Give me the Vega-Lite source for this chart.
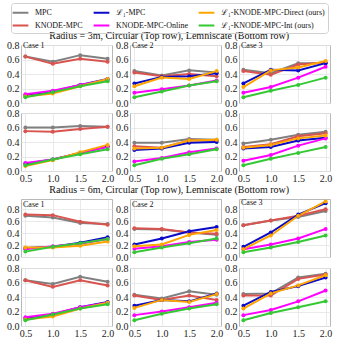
{
"$schema":"https://vega.github.io/schema/vega-lite/v6.json",
"padding":{"left":6,"top":2,"right":2,"bottom":0},
"background":"white",
"data":{"values":[
{"p":"3C1","m":"MPC","x":0.5,"y":0.64},{"p":"3C1","m":"MPC","x":1.0,"y":0.57},{"p":"3C1","m":"MPC","x":1.5,"y":0.66},{"p":"3C1","m":"MPC","x":2.0,"y":0.61},
{"p":"3C1","m":"KN","x":0.5,"y":0.64},{"p":"3C1","m":"KN","x":1.0,"y":0.54},{"p":"3C1","m":"KN","x":1.5,"y":0.61},{"p":"3C1","m":"KN","x":2.0,"y":0.57},
{"p":"3C1","m":"L1","x":0.5,"y":0.10},{"p":"3C1","m":"L1","x":1.0,"y":0.16},{"p":"3C1","m":"L1","x":1.5,"y":0.25},{"p":"3C1","m":"L1","x":2.0,"y":0.33},
{"p":"3C1","m":"KNO","x":0.5,"y":0.12},{"p":"3C1","m":"KNO","x":1.0,"y":0.17},{"p":"3C1","m":"KNO","x":1.5,"y":0.25},{"p":"3C1","m":"KNO","x":2.0,"y":0.32},
{"p":"3C1","m":"D","x":0.5,"y":0.09},{"p":"3C1","m":"D","x":1.0,"y":0.13},{"p":"3C1","m":"D","x":1.5,"y":0.23},{"p":"3C1","m":"D","x":2.0,"y":0.33},
{"p":"3C1","m":"I","x":0.5,"y":0.08},{"p":"3C1","m":"I","x":1.0,"y":0.15},{"p":"3C1","m":"I","x":1.5,"y":0.23},{"p":"3C1","m":"I","x":2.0,"y":0.30},
{"p":"3C2","m":"MPC","x":0.5,"y":0.44},{"p":"3C2","m":"MPC","x":1.0,"y":0.38},{"p":"3C2","m":"MPC","x":1.5,"y":0.45},{"p":"3C2","m":"MPC","x":2.0,"y":0.42},
{"p":"3C2","m":"KN","x":0.5,"y":0.42},{"p":"3C2","m":"KN","x":1.0,"y":0.37},{"p":"3C2","m":"KN","x":1.5,"y":0.40},{"p":"3C2","m":"KN","x":2.0,"y":0.37},
{"p":"3C2","m":"L1","x":0.5,"y":0.27},{"p":"3C2","m":"L1","x":1.0,"y":0.36},{"p":"3C2","m":"L1","x":1.5,"y":0.37},{"p":"3C2","m":"L1","x":2.0,"y":0.41},
{"p":"3C2","m":"KNO","x":0.5,"y":0.14},{"p":"3C2","m":"KNO","x":1.0,"y":0.19},{"p":"3C2","m":"KNO","x":1.5,"y":0.24},{"p":"3C2","m":"KNO","x":2.0,"y":0.31},
{"p":"3C2","m":"D","x":0.5,"y":0.23},{"p":"3C2","m":"D","x":1.0,"y":0.35},{"p":"3C2","m":"D","x":1.5,"y":0.33},{"p":"3C2","m":"D","x":2.0,"y":0.44},
{"p":"3C2","m":"I","x":0.5,"y":0.08},{"p":"3C2","m":"I","x":1.0,"y":0.16},{"p":"3C2","m":"I","x":1.5,"y":0.24},{"p":"3C2","m":"I","x":2.0,"y":0.30},
{"p":"3C3","m":"MPC","x":0.5,"y":0.46},{"p":"3C3","m":"MPC","x":1.0,"y":0.41},{"p":"3C3","m":"MPC","x":1.5,"y":0.55},{"p":"3C3","m":"MPC","x":2.0,"y":0.55},
{"p":"3C3","m":"KN","x":0.5,"y":0.44},{"p":"3C3","m":"KN","x":1.0,"y":0.39},{"p":"3C3","m":"KN","x":1.5,"y":0.53},{"p":"3C3","m":"KN","x":2.0,"y":0.56},
{"p":"3C3","m":"L1","x":0.5,"y":0.27},{"p":"3C3","m":"L1","x":1.0,"y":0.46},{"p":"3C3","m":"L1","x":1.5,"y":0.45},{"p":"3C3","m":"L1","x":2.0,"y":0.55},
{"p":"3C3","m":"KNO","x":0.5,"y":0.14},{"p":"3C3","m":"KNO","x":1.0,"y":0.22},{"p":"3C3","m":"KNO","x":1.5,"y":0.35},{"p":"3C3","m":"KNO","x":2.0,"y":0.50},
{"p":"3C3","m":"D","x":0.5,"y":0.22},{"p":"3C3","m":"D","x":1.0,"y":0.45},{"p":"3C3","m":"D","x":1.5,"y":0.49},{"p":"3C3","m":"D","x":2.0,"y":0.58},
{"p":"3C3","m":"I","x":0.5,"y":0.08},{"p":"3C3","m":"I","x":1.0,"y":0.17},{"p":"3C3","m":"I","x":1.5,"y":0.25},{"p":"3C3","m":"I","x":2.0,"y":0.35},
{"p":"3L1","m":"MPC","x":0.5,"y":0.60},{"p":"3L1","m":"MPC","x":1.0,"y":0.60},{"p":"3L1","m":"MPC","x":1.5,"y":0.62},{"p":"3L1","m":"MPC","x":2.0,"y":0.61},
{"p":"3L1","m":"KN","x":0.5,"y":0.55},{"p":"3L1","m":"KN","x":1.0,"y":0.54},{"p":"3L1","m":"KN","x":1.5,"y":0.58},{"p":"3L1","m":"KN","x":2.0,"y":0.61},
{"p":"3L1","m":"L1","x":0.5,"y":0.10},{"p":"3L1","m":"L1","x":1.0,"y":0.16},{"p":"3L1","m":"L1","x":1.5,"y":0.25},{"p":"3L1","m":"L1","x":2.0,"y":0.34},
{"p":"3L1","m":"KNO","x":0.5,"y":0.11},{"p":"3L1","m":"KNO","x":1.0,"y":0.16},{"p":"3L1","m":"KNO","x":1.5,"y":0.25},{"p":"3L1","m":"KNO","x":2.0,"y":0.33},
{"p":"3L1","m":"D","x":0.5,"y":0.07},{"p":"3L1","m":"D","x":1.0,"y":0.15},{"p":"3L1","m":"D","x":1.5,"y":0.26},{"p":"3L1","m":"D","x":2.0,"y":0.36},
{"p":"3L1","m":"I","x":0.5,"y":0.08},{"p":"3L1","m":"I","x":1.0,"y":0.16},{"p":"3L1","m":"I","x":1.5,"y":0.23},{"p":"3L1","m":"I","x":2.0,"y":0.30},
{"p":"3L2","m":"MPC","x":0.5,"y":0.39},{"p":"3L2","m":"MPC","x":1.0,"y":0.39},{"p":"3L2","m":"MPC","x":1.5,"y":0.44},{"p":"3L2","m":"MPC","x":2.0,"y":0.43},
{"p":"3L2","m":"KN","x":0.5,"y":0.34},{"p":"3L2","m":"KN","x":1.0,"y":0.32},{"p":"3L2","m":"KN","x":1.5,"y":0.42},{"p":"3L2","m":"KN","x":2.0,"y":0.42},
{"p":"3L2","m":"L1","x":0.5,"y":0.29},{"p":"3L2","m":"L1","x":1.0,"y":0.31},{"p":"3L2","m":"L1","x":1.5,"y":0.39},{"p":"3L2","m":"L1","x":2.0,"y":0.40},
{"p":"3L2","m":"KNO","x":0.5,"y":0.13},{"p":"3L2","m":"KNO","x":1.0,"y":0.18},{"p":"3L2","m":"KNO","x":1.5,"y":0.26},{"p":"3L2","m":"KNO","x":2.0,"y":0.31},
{"p":"3L2","m":"D","x":0.5,"y":0.31},{"p":"3L2","m":"D","x":1.0,"y":0.32},{"p":"3L2","m":"D","x":1.5,"y":0.42},{"p":"3L2","m":"D","x":2.0,"y":0.43},
{"p":"3L2","m":"I","x":0.5,"y":0.08},{"p":"3L2","m":"I","x":1.0,"y":0.17},{"p":"3L2","m":"I","x":1.5,"y":0.23},{"p":"3L2","m":"I","x":2.0,"y":0.30},
{"p":"3L3","m":"MPC","x":0.5,"y":0.38},{"p":"3L3","m":"MPC","x":1.0,"y":0.43},{"p":"3L3","m":"MPC","x":1.5,"y":0.50},{"p":"3L3","m":"MPC","x":2.0,"y":0.54},
{"p":"3L3","m":"KN","x":0.5,"y":0.33},{"p":"3L3","m":"KN","x":1.0,"y":0.37},{"p":"3L3","m":"KN","x":1.5,"y":0.48},{"p":"3L3","m":"KN","x":2.0,"y":0.52},
{"p":"3L3","m":"L1","x":0.5,"y":0.31},{"p":"3L3","m":"L1","x":1.0,"y":0.33},{"p":"3L3","m":"L1","x":1.5,"y":0.42},{"p":"3L3","m":"L1","x":2.0,"y":0.46},
{"p":"3L3","m":"KNO","x":0.5,"y":0.14},{"p":"3L3","m":"KNO","x":1.0,"y":0.22},{"p":"3L3","m":"KNO","x":1.5,"y":0.35},{"p":"3L3","m":"KNO","x":2.0,"y":0.45},
{"p":"3L3","m":"D","x":0.5,"y":0.32},{"p":"3L3","m":"D","x":1.0,"y":0.36},{"p":"3L3","m":"D","x":1.5,"y":0.45},{"p":"3L3","m":"D","x":2.0,"y":0.49},
{"p":"3L3","m":"I","x":0.5,"y":0.08},{"p":"3L3","m":"I","x":1.0,"y":0.17},{"p":"3L3","m":"I","x":1.5,"y":0.25},{"p":"3L3","m":"I","x":2.0,"y":0.33},
{"p":"6C1","m":"MPC","x":0.5,"y":0.69},{"p":"6C1","m":"MPC","x":1.0,"y":0.66},{"p":"6C1","m":"MPC","x":1.5,"y":0.57},{"p":"6C1","m":"MPC","x":2.0,"y":0.55},
{"p":"6C1","m":"KN","x":0.5,"y":0.71},{"p":"6C1","m":"KN","x":1.0,"y":0.70},{"p":"6C1","m":"KN","x":1.5,"y":0.59},{"p":"6C1","m":"KN","x":2.0,"y":0.54},
{"p":"6C1","m":"L1","x":0.5,"y":0.15},{"p":"6C1","m":"L1","x":1.0,"y":0.17},{"p":"6C1","m":"L1","x":1.5,"y":0.24},{"p":"6C1","m":"L1","x":2.0,"y":0.33},
{"p":"6C1","m":"KNO","x":0.5,"y":0.13},{"p":"6C1","m":"KNO","x":1.0,"y":0.18},{"p":"6C1","m":"KNO","x":1.5,"y":0.22},{"p":"6C1","m":"KNO","x":2.0,"y":0.30},
{"p":"6C1","m":"D","x":0.5,"y":0.16},{"p":"6C1","m":"D","x":1.0,"y":0.16},{"p":"6C1","m":"D","x":1.5,"y":0.19},{"p":"6C1","m":"D","x":2.0,"y":0.26},
{"p":"6C1","m":"I","x":0.5,"y":0.09},{"p":"6C1","m":"I","x":1.0,"y":0.17},{"p":"6C1","m":"I","x":1.5,"y":0.23},{"p":"6C1","m":"I","x":2.0,"y":0.30},
{"p":"6C2","m":"MPC","x":0.5,"y":0.47},{"p":"6C2","m":"MPC","x":1.0,"y":0.46},{"p":"6C2","m":"MPC","x":1.5,"y":0.41},{"p":"6C2","m":"MPC","x":2.0,"y":0.37},
{"p":"6C2","m":"KN","x":0.5,"y":0.48},{"p":"6C2","m":"KN","x":1.0,"y":0.47},{"p":"6C2","m":"KN","x":1.5,"y":0.41},{"p":"6C2","m":"KN","x":2.0,"y":0.39},
{"p":"6C2","m":"L1","x":0.5,"y":0.21},{"p":"6C2","m":"L1","x":1.0,"y":0.31},{"p":"6C2","m":"L1","x":1.5,"y":0.43},{"p":"6C2","m":"L1","x":2.0,"y":0.50},
{"p":"6C2","m":"KNO","x":0.5,"y":0.14},{"p":"6C2","m":"KNO","x":1.0,"y":0.18},{"p":"6C2","m":"KNO","x":1.5,"y":0.25},{"p":"6C2","m":"KNO","x":2.0,"y":0.29},
{"p":"6C2","m":"D","x":0.5,"y":0.18},{"p":"6C2","m":"D","x":1.0,"y":0.21},{"p":"6C2","m":"D","x":1.5,"y":0.37},{"p":"6C2","m":"D","x":2.0,"y":0.45},
{"p":"6C2","m":"I","x":0.5,"y":0.08},{"p":"6C2","m":"I","x":1.0,"y":0.16},{"p":"6C2","m":"I","x":1.5,"y":0.23},{"p":"6C2","m":"I","x":2.0,"y":0.31},
{"p":"6C3","m":"MPC","x":0.5,"y":0.53},{"p":"6C3","m":"MPC","x":1.0,"y":0.61},{"p":"6C3","m":"MPC","x":1.5,"y":0.67},{"p":"6C3","m":"MPC","x":2.0,"y":0.77},
{"p":"6C3","m":"KN","x":0.5,"y":0.53},{"p":"6C3","m":"KN","x":1.0,"y":0.61},{"p":"6C3","m":"KN","x":1.5,"y":0.69},{"p":"6C3","m":"KN","x":2.0,"y":0.80},
{"p":"6C3","m":"L1","x":0.5,"y":0.17},{"p":"6C3","m":"L1","x":1.0,"y":0.41},{"p":"6C3","m":"L1","x":1.5,"y":0.71},{"p":"6C3","m":"L1","x":2.0,"y":0.90},
{"p":"6C3","m":"KNO","x":0.5,"y":0.13},{"p":"6C3","m":"KNO","x":1.0,"y":0.21},{"p":"6C3","m":"KNO","x":1.5,"y":0.31},{"p":"6C3","m":"KNO","x":2.0,"y":0.47},
{"p":"6C3","m":"D","x":0.5,"y":0.13},{"p":"6C3","m":"D","x":1.0,"y":0.36},{"p":"6C3","m":"D","x":1.5,"y":0.69},{"p":"6C3","m":"D","x":2.0,"y":0.93},
{"p":"6C3","m":"I","x":0.5,"y":0.08},{"p":"6C3","m":"I","x":1.0,"y":0.16},{"p":"6C3","m":"I","x":1.5,"y":0.25},{"p":"6C3","m":"I","x":2.0,"y":0.36},
{"p":"6L1","m":"MPC","x":0.5,"y":0.63},{"p":"6L1","m":"MPC","x":1.0,"y":0.58},{"p":"6L1","m":"MPC","x":1.5,"y":0.68},{"p":"6L1","m":"MPC","x":2.0,"y":0.61},
{"p":"6L1","m":"KN","x":0.5,"y":0.63},{"p":"6L1","m":"KN","x":1.0,"y":0.54},{"p":"6L1","m":"KN","x":1.5,"y":0.63},{"p":"6L1","m":"KN","x":2.0,"y":0.56},
{"p":"6L1","m":"L1","x":0.5,"y":0.10},{"p":"6L1","m":"L1","x":1.0,"y":0.16},{"p":"6L1","m":"L1","x":1.5,"y":0.26},{"p":"6L1","m":"L1","x":2.0,"y":0.33},
{"p":"6L1","m":"KNO","x":0.5,"y":0.12},{"p":"6L1","m":"KNO","x":1.0,"y":0.17},{"p":"6L1","m":"KNO","x":1.5,"y":0.26},{"p":"6L1","m":"KNO","x":2.0,"y":0.32},
{"p":"6L1","m":"D","x":0.5,"y":0.09},{"p":"6L1","m":"D","x":1.0,"y":0.13},{"p":"6L1","m":"D","x":1.5,"y":0.24},{"p":"6L1","m":"D","x":2.0,"y":0.32},
{"p":"6L1","m":"I","x":0.5,"y":0.08},{"p":"6L1","m":"I","x":1.0,"y":0.16},{"p":"6L1","m":"I","x":1.5,"y":0.24},{"p":"6L1","m":"I","x":2.0,"y":0.30},
{"p":"6L2","m":"MPC","x":0.5,"y":0.43},{"p":"6L2","m":"MPC","x":1.0,"y":0.38},{"p":"6L2","m":"MPC","x":1.5,"y":0.48},{"p":"6L2","m":"MPC","x":2.0,"y":0.43},
{"p":"6L2","m":"KN","x":0.5,"y":0.42},{"p":"6L2","m":"KN","x":1.0,"y":0.36},{"p":"6L2","m":"KN","x":1.5,"y":0.42},{"p":"6L2","m":"KN","x":2.0,"y":0.36},
{"p":"6L2","m":"L1","x":0.5,"y":0.28},{"p":"6L2","m":"L1","x":1.0,"y":0.36},{"p":"6L2","m":"L1","x":1.5,"y":0.34},{"p":"6L2","m":"L1","x":2.0,"y":0.45},
{"p":"6L2","m":"KNO","x":0.5,"y":0.15},{"p":"6L2","m":"KNO","x":1.0,"y":0.20},{"p":"6L2","m":"KNO","x":1.5,"y":0.26},{"p":"6L2","m":"KNO","x":2.0,"y":0.32},
{"p":"6L2","m":"D","x":0.5,"y":0.25},{"p":"6L2","m":"D","x":1.0,"y":0.36},{"p":"6L2","m":"D","x":1.5,"y":0.33},{"p":"6L2","m":"D","x":2.0,"y":0.44},
{"p":"6L2","m":"I","x":0.5,"y":0.08},{"p":"6L2","m":"I","x":1.0,"y":0.17},{"p":"6L2","m":"I","x":1.5,"y":0.24},{"p":"6L2","m":"I","x":2.0,"y":0.30},
{"p":"6L3","m":"MPC","x":0.5,"y":0.44},{"p":"6L3","m":"MPC","x":1.0,"y":0.45},{"p":"6L3","m":"MPC","x":1.5,"y":0.67},{"p":"6L3","m":"MPC","x":2.0,"y":0.72},
{"p":"6L3","m":"KN","x":0.5,"y":0.42},{"p":"6L3","m":"KN","x":1.0,"y":0.42},{"p":"6L3","m":"KN","x":1.5,"y":0.65},{"p":"6L3","m":"KN","x":2.0,"y":0.71},
{"p":"6L3","m":"L1","x":0.5,"y":0.28},{"p":"6L3","m":"L1","x":1.0,"y":0.47},{"p":"6L3","m":"L1","x":1.5,"y":0.55},{"p":"6L3","m":"L1","x":2.0,"y":0.67},
{"p":"6L3","m":"KNO","x":0.5,"y":0.15},{"p":"6L3","m":"KNO","x":1.0,"y":0.22},{"p":"6L3","m":"KNO","x":1.5,"y":0.34},{"p":"6L3","m":"KNO","x":2.0,"y":0.49},
{"p":"6L3","m":"D","x":0.5,"y":0.24},{"p":"6L3","m":"D","x":1.0,"y":0.45},{"p":"6L3","m":"D","x":1.5,"y":0.56},{"p":"6L3","m":"D","x":2.0,"y":0.70},
{"p":"6L3","m":"I","x":0.5,"y":0.08},{"p":"6L3","m":"I","x":1.0,"y":0.18},{"p":"6L3","m":"I","x":1.5,"y":0.26},{"p":"6L3","m":"I","x":2.0,"y":0.34}
]},
"config":{
"font":"Liberation Serif",
"view":{"stroke":"#b8b8b8","strokeWidth":1},
"axis":{"labelFont":"Liberation Serif","labelFontSize":10,"labelColor":"#222","ticks":false,"domain":false,"gridColor":"#e4e4e4","gridWidth":0.8,"labelPadding":2,"title":null},
"title":{"font":"Liberation Serif","fontWeight":"normal","color":"#111"},
"legend":{"layout":{"top":{"anchor":"middle"}}}
},
"resolve":{"scale":{"x":"independent","y":"independent","color":"shared"}},
"spacing":0,
"vconcat":[
{"title":{"text":"Radius = 3m, Circular (Top row), Lemniscate (Bottom row)","fontSize":10,"anchor":"middle","offset":-1},
 "spacing":-2,
 "resolve":{"scale":{"x":"independent","y":"independent","color":"shared"}},
 "vconcat":[
 {"spacing":18,"bounds":"flush","resolve":{"scale":{"x":"independent","y":"independent","color":"shared"}},"hconcat":[
  {"width":91,"height":58,"title":{"text":"Case 1","anchor":"start","frame":"group","offset":-10,"fontSize":8,"dx":2},"transform":[{"filter":"datum.p=='3C1'"}],
   "encoding":{"x":{"field":"x","type":"quantitative","scale":{"domain":[0.42,2.08],"nice":false},"axis":{"values":[0.5,1,1.5,2],"format":".1f","labels":false}},
    "y":{"field":"y","type":"quantitative","scale":{"domain":[0,0.8],"nice":false},"axis":{"values":[0,0.2,0.4,0.6,0.8],"format":".1f"}},
    "color":{"field":"m","type":"nominal","scale":{"domain":["MPC","L1","D","KN","KNO","I"],"range":["#808080","#0a0ac8","#ffa500","#d9534f","#ff00ff","#35c835"]},
     "legend":{"title":null,"orient":"top","columns":3,"symbolType":"M-1.5,0H1.5","symbolStrokeWidth":2,"symbolSize":110,"labelOffset":8,"labelFont":"Liberation Serif","labelFontSize":8,"labelColor":"#111","strokeColor":"#d0d0d0","cornerRadius":3,"padding":3,"columnPadding":6,"rowPadding":2,"offset":-3,"labelLimit":200,
      "labelExpr":"{'MPC':'MPC','L1':'ℒ₁-MPC','D':'ℒ₁-KNODE-MPC-Direct (ours)','KN':'KNODE-MPC','KNO':'KNODE-MPC-Online','I':'ℒ₁-KNODE-MPC-Int (ours)'}[datum.label]"}}},
   "layer":[{"mark":{"type":"line","strokeWidth":2},"encoding":{}},{"mark":{"type":"point","filled":true,"size":16,"opacity":1}}]},
  {"width":91,"height":58,"title":{"text":"Case 2","anchor":"start","frame":"group","offset":-10,"fontSize":8,"dx":2},"transform":[{"filter":"datum.p=='3C2'"}],
   "encoding":{"x":{"field":"x","type":"quantitative","scale":{"domain":[0.42,2.08],"nice":false},"axis":{"values":[0.5,1,1.5,2],"format":".1f","labels":false}},
    "y":{"field":"y","type":"quantitative","scale":{"domain":[0,0.8],"nice":false},"axis":{"values":[0,0.2,0.4,0.6,0.8],"format":".1f"}},
    "color":{"field":"m","type":"nominal"}},
   "layer":[{"mark":{"type":"line","strokeWidth":2},"encoding":{}},{"mark":{"type":"point","filled":true,"size":16,"opacity":1}}]},
  {"width":91,"height":58,"title":{"text":"Case 3","anchor":"start","frame":"group","offset":-10,"fontSize":8,"dx":2},"transform":[{"filter":"datum.p=='3C3'"}],
   "encoding":{"x":{"field":"x","type":"quantitative","scale":{"domain":[0.42,2.08],"nice":false},"axis":{"values":[0.5,1,1.5,2],"format":".1f","labels":false}},
    "y":{"field":"y","type":"quantitative","scale":{"domain":[0,0.8],"nice":false},"axis":{"values":[0,0.2,0.4,0.6,0.8],"format":".1f"}},
    "color":{"field":"m","type":"nominal"}},
   "layer":[{"mark":{"type":"line","strokeWidth":2},"encoding":{}},{"mark":{"type":"point","filled":true,"size":16,"opacity":1}}]}
 ]},
 {"spacing":18,"bounds":"flush","resolve":{"scale":{"x":"independent","y":"independent","color":"shared"}},"hconcat":[
  {"width":91,"height":58,"transform":[{"filter":"datum.p=='3L1'"}],
   "encoding":{"x":{"field":"x","type":"quantitative","scale":{"domain":[0.42,2.08],"nice":false},"axis":{"values":[0.5,1,1.5,2],"format":".1f"}},
    "y":{"field":"y","type":"quantitative","scale":{"domain":[0,0.8],"nice":false},"axis":{"values":[0,0.2,0.4,0.6,0.8],"format":".1f"}},
    "color":{"field":"m","type":"nominal"}},
   "layer":[{"mark":{"type":"line","strokeWidth":2},"encoding":{}},{"mark":{"type":"point","filled":true,"size":16,"opacity":1}}]},
  {"width":91,"height":58,"transform":[{"filter":"datum.p=='3L2'"}],
   "encoding":{"x":{"field":"x","type":"quantitative","scale":{"domain":[0.42,2.08],"nice":false},"axis":{"values":[0.5,1,1.5,2],"format":".1f"}},
    "y":{"field":"y","type":"quantitative","scale":{"domain":[0,0.8],"nice":false},"axis":{"values":[0,0.2,0.4,0.6,0.8],"format":".1f"}},
    "color":{"field":"m","type":"nominal"}},
   "layer":[{"mark":{"type":"line","strokeWidth":2},"encoding":{}},{"mark":{"type":"point","filled":true,"size":16,"opacity":1}}]},
  {"width":91,"height":58,"transform":[{"filter":"datum.p=='3L3'"}],
   "encoding":{"x":{"field":"x","type":"quantitative","scale":{"domain":[0.42,2.08],"nice":false},"axis":{"values":[0.5,1,1.5,2],"format":".1f"}},
    "y":{"field":"y","type":"quantitative","scale":{"domain":[0,0.8],"nice":false},"axis":{"values":[0,0.2,0.4,0.6,0.8],"format":".1f"}},
    "color":{"field":"m","type":"nominal"}},
   "layer":[{"mark":{"type":"line","strokeWidth":2},"encoding":{}},{"mark":{"type":"point","filled":true,"size":16,"opacity":1}}]}
 ]}
 ]},
{"title":{"text":"Radius = 6m, Circular (Top row), Lemniscate (Bottom row)","fontSize":10,"anchor":"middle","offset":2},
 "spacing":-1,
 "resolve":{"scale":{"x":"independent","y":"independent","color":"shared"}},
 "vconcat":[
 {"spacing":18,"bounds":"flush","resolve":{"scale":{"x":"independent","y":"independent","color":"shared"}},"hconcat":[
  {"width":91,"height":58,"title":{"text":"Case 1","anchor":"start","frame":"group","offset":-10,"fontSize":8,"dx":2},"transform":[{"filter":"datum.p=='6C1'"}],
   "encoding":{"x":{"field":"x","type":"quantitative","scale":{"domain":[0.42,2.08],"nice":false},"axis":{"values":[0.5,1,1.5,2],"format":".1f","labels":false}},
    "y":{"field":"y","type":"quantitative","scale":{"domain":[0,0.97],"nice":false},"axis":{"values":[0,0.2,0.4,0.6,0.8],"format":".1f"}},
    "color":{"field":"m","type":"nominal"}},
   "layer":[{"mark":{"type":"line","strokeWidth":2},"encoding":{}},{"mark":{"type":"point","filled":true,"size":16,"opacity":1}}]},
  {"width":91,"height":58,"title":{"text":"Case 2","anchor":"start","frame":"group","offset":-10,"fontSize":8,"dx":2},"transform":[{"filter":"datum.p=='6C2'"}],
   "encoding":{"x":{"field":"x","type":"quantitative","scale":{"domain":[0.42,2.08],"nice":false},"axis":{"values":[0.5,1,1.5,2],"format":".1f","labels":false}},
    "y":{"field":"y","type":"quantitative","scale":{"domain":[0,0.97],"nice":false},"axis":{"values":[0,0.2,0.4,0.6,0.8],"format":".1f"}},
    "color":{"field":"m","type":"nominal"}},
   "layer":[{"mark":{"type":"line","strokeWidth":2},"encoding":{}},{"mark":{"type":"point","filled":true,"size":16,"opacity":1}}]},
  {"width":91,"height":58,"title":{"text":"Case 3","anchor":"start","frame":"group","offset":-10,"fontSize":8,"dx":2},"transform":[{"filter":"datum.p=='6C3'"}],
   "encoding":{"x":{"field":"x","type":"quantitative","scale":{"domain":[0.42,2.08],"nice":false},"axis":{"values":[0.5,1,1.5,2],"format":".1f","labels":false}},
    "y":{"field":"y","type":"quantitative","scale":{"domain":[0,0.97],"nice":false},"axis":{"values":[0,0.2,0.4,0.6,0.8],"format":".1f"}},
    "color":{"field":"m","type":"nominal"}},
   "layer":[{"mark":{"type":"line","strokeWidth":2},"encoding":{}},{"mark":{"type":"point","filled":true,"size":16,"opacity":1}}]}
 ]},
 {"spacing":18,"bounds":"flush","resolve":{"scale":{"x":"independent","y":"independent","color":"shared"}},"hconcat":[
  {"width":91,"height":58,"transform":[{"filter":"datum.p=='6L1'"}],
   "encoding":{"x":{"field":"x","type":"quantitative","scale":{"domain":[0.42,2.08],"nice":false},"axis":{"values":[0.5,1,1.5,2],"format":".1f"}},
    "y":{"field":"y","type":"quantitative","scale":{"domain":[0,0.8],"nice":false},"axis":{"values":[0,0.2,0.4,0.6,0.8],"format":".1f"}},
    "color":{"field":"m","type":"nominal"}},
   "layer":[{"mark":{"type":"line","strokeWidth":2},"encoding":{}},{"mark":{"type":"point","filled":true,"size":16,"opacity":1}}]},
  {"width":91,"height":58,"transform":[{"filter":"datum.p=='6L2'"}],
   "encoding":{"x":{"field":"x","type":"quantitative","scale":{"domain":[0.42,2.08],"nice":false},"axis":{"values":[0.5,1,1.5,2],"format":".1f"}},
    "y":{"field":"y","type":"quantitative","scale":{"domain":[0,0.8],"nice":false},"axis":{"values":[0,0.2,0.4,0.6,0.8],"format":".1f"}},
    "color":{"field":"m","type":"nominal"}},
   "layer":[{"mark":{"type":"line","strokeWidth":2},"encoding":{}},{"mark":{"type":"point","filled":true,"size":16,"opacity":1}}]},
  {"width":91,"height":58,"transform":[{"filter":"datum.p=='6L3'"}],
   "encoding":{"x":{"field":"x","type":"quantitative","scale":{"domain":[0.42,2.08],"nice":false},"axis":{"values":[0.5,1,1.5,2],"format":".1f"}},
    "y":{"field":"y","type":"quantitative","scale":{"domain":[0,0.8],"nice":false},"axis":{"values":[0,0.2,0.4,0.6,0.8],"format":".1f"}},
    "color":{"field":"m","type":"nominal"}},
   "layer":[{"mark":{"type":"line","strokeWidth":2},"encoding":{}},{"mark":{"type":"point","filled":true,"size":16,"opacity":1}}]}
 ]}
 ]}
]
}
